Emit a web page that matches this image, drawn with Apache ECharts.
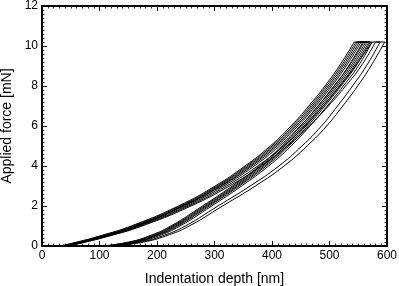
<!DOCTYPE html>
<html>
<head>
<meta charset="utf-8">
<script src="https://cdn.jsdelivr.net/npm/echarts@6/dist/echarts.min.js"></script>
<style>
html,body{margin:0;padding:0;background:#fff;}
#chart{width:399px;height:286px;}
</style>
</head>
<body>
<div id="chart"></div>
<script>
// Force levels (mN) at which depths were read
const forceLevels = [0, 0.2, 0.5, 1, 2, 3, 4, 5, 6, 7, 8, 9, 10.2];

// Loading branches: depth (nm) at each force level
const loading1 = [31, 61, 100, 155, 237, 301, 353, 397, 433, 464, 492, 517, 543];
const loading2 = [34, 64, 103, 158, 240, 304, 356, 400, 436, 467, 495, 520, 546];
const loading3 = [36, 66, 106, 161, 243, 307, 359, 403, 439, 470, 498, 523, 549];
const loading4 = [38, 68, 108, 163, 245, 310, 362, 406, 442, 473, 501, 526, 552];
const loading5 = [40, 70, 110, 165, 247, 312, 365, 409, 445, 476, 504, 529, 555];
const loading6 = [43, 73, 113, 168, 251, 316, 369, 413, 449, 480, 508, 533, 558];
const loading7 = [44, 75, 115, 171, 255, 321, 375, 420, 457, 489, 518, 545, 574];
const loading8 = [45, 76, 117, 174, 259, 326, 381, 427, 465, 498, 528, 555, 580];

// Unloading branches: depth (nm) at each force level
const unloading1 = [106, 151, 186, 224, 279, 331, 378, 417, 450, 480, 508, 534, 560];
const unloading2 = [109, 154, 189, 227, 282, 334, 381, 420, 453, 483, 511, 537, 563];
const unloading3 = [112, 157, 192, 230, 285, 337, 384, 423, 456, 486, 514, 540, 566];
const unloading4 = [115, 160, 195, 233, 288, 340, 387, 426, 459, 489, 517, 543, 569];
const unloading5 = [118, 163, 198, 236, 291, 343, 390, 429, 462, 492, 520, 546, 571];
const unloading6 = [122, 167, 202, 240, 295, 347, 394, 433, 466, 496, 524, 550, 574];
const unloading7 = [124, 172, 209, 249, 306, 362, 412, 452, 486, 514, 540, 564, 588];
const unloading8 = [128, 177, 215, 256, 314, 371, 421, 461, 495, 523, 549, 572, 596];

const loadingBranches = [loading1, loading2, loading3, loading4, loading5, loading6, loading7, loading8];
const unloadingBranches = [unloading1, unloading2, unloading3, unloading4, unloading5, unloading6, unloading7, unloading8];

const xTicks = ['0', '100', '200', '300', '400', '500', '600'];
const yTicks = ['0', '2', '4', '6', '8', '10', '12'];

const lineStyle = { color: '#000', width: 1 };
const series = [];
loadingBranches.forEach(function (L, k) {
  const U = unloadingBranches[k];
  const top = forceLevels[forceLevels.length - 1];
  series.push({
    type: 'line', smooth: true, symbol: 'none', lineStyle: lineStyle,
    data: forceLevels.map(function (f, i) { return [L[i], f]; })
  });
  series.push({
    type: 'line', smooth: false, symbol: 'none', lineStyle: lineStyle,
    data: [[L[L.length - 1], top], [U[U.length - 1], top]]
  });
  series.push({
    type: 'line', smooth: true, symbol: 'none', lineStyle: lineStyle,
    data: forceLevels.map(function (f, i) { return [U[i], f]; }).reverse()
  });
});

const font = 'Liberation Sans, Arial, Helvetica, sans-serif';
function axisCommon(showLabels) {
  return {
    type: 'value',
    axisLine: { show: true, onZero: false, lineStyle: { color: '#000', width: 2 } },
    axisTick: { show: true, inside: true, length: 5, lineStyle: { color: '#000', width: 1 } },
    minorTick: { show: true, splitNumber: 10, length: 2.5, lineStyle: { color: '#000', width: 0.8 } },
    splitLine: { show: false },
    axisLabel: { show: showLabels, color: '#000', fontSize: 12, fontFamily: font }
  };
}

const xBottom = Object.assign(axisCommon(true), {
  min: 0, max: 600, interval: 100, position: 'bottom',
  name: 'Indentation depth [nm]', nameLocation: 'middle', nameGap: 26,
  nameTextStyle: { color: '#000', fontSize: 14, fontFamily: font }
});
xBottom.axisLabel.margin = 4;
xBottom.axisLabel.formatter = function (v) { return xTicks[Math.round(v / 100)]; };
const xTop = Object.assign(axisCommon(false), { min: 0, max: 600, interval: 100, position: 'top' });

const yLeft = Object.assign(axisCommon(true), {
  min: 0, max: 12, interval: 2, position: 'left',
  name: 'Applied force [mN]', nameLocation: 'middle', nameGap: 26, nameRotate: 90,
  nameTextStyle: { color: '#000', fontSize: 14, fontFamily: font }
});
yLeft.axisLabel.margin = 4;
yLeft.axisLabel.formatter = function (v) { return yTicks[Math.round(v / 2)]; };
const yRight = Object.assign(axisCommon(false), { min: 0, max: 12, interval: 2, position: 'right' });

const chart = echarts.init(document.getElementById('chart'), null, { renderer: 'canvas' });
chart.setOption({
  animation: false,
  backgroundColor: '#fff',
  grid: { left: 42, right: 12, top: 6, bottom: 40, containLabel: false, outerBoundsMode: 'none' },
  xAxis: [xBottom, xTop],
  yAxis: [yLeft, yRight],
  series: series
});
</script>
</body>
</html>
